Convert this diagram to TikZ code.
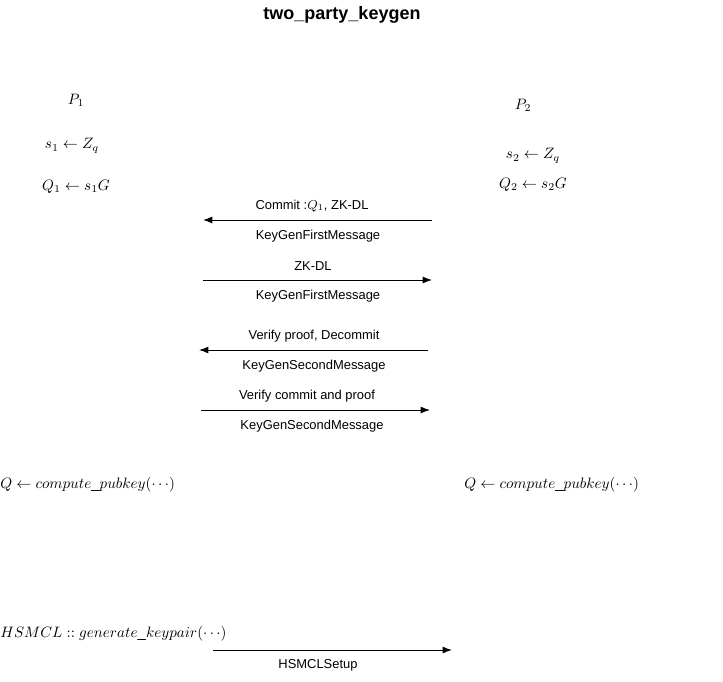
\RequirePackage{fix-cm}
\documentclass[tikz,border=0pt]{standalone}
\usepackage{fontspec}
\setmainfont{Liberation Sans}
\usetikzlibrary{arrows.meta}
\begin{document}
\begin{tikzpicture}[x=0.75pt,y=-0.75pt,
  lbl/.style={inner sep=0pt,font=\fontsize{9.7}{11}\selectfont},
  mth/.style={inner sep=0pt,font=\fontsize{11.3}{13}\selectfont},
  msg/.style={draw=black,line width=0.75pt,-{Latex[length=7pt,width=5.2pt]}}]
\useasboundingbox (0,0) rectangle (723,681);
\node[inner sep=0pt,font=\bfseries\fontsize{13.5}{15}\selectfont] (title) at (342,15) {two\_party\_keygen};
% party 1
\node[mth] (p1) at (76,100) {$P_1$};
\node[mth] (s1) at (72,146) {$s_1 \leftarrow Z_q$};
\node[mth] (q1) at (76,187) {$Q_1 \leftarrow s_1G$};
% party 2
\node[mth] (p2) at (523,105) {$P_2$};
\node[mth] (s2) at (533,156) {$s_2 \leftarrow Z_q$};
\node[mth] (q2) at (533,185) {$Q_2 \leftarrow s_2G$};
% message 1
\coordinate (m1a) at (432,220); \coordinate (m1b) at (203,220);
\draw[msg] (m1a) -- (m1b);
\node[lbl] (m1t) at (312,206) {Commit :$Q_1$, ZK-DL};
\node[lbl] (m1n) at (318,236) {KeyGenFirstMessage};
% message 2
\coordinate (m2a) at (203,280); \coordinate (m2b) at (432,280);
\draw[msg] (m2a) -- (m2b);
\node[lbl] (m2t) at (313,266) {ZK-DL};
\node[lbl] (m2n) at (318,296) {KeyGenFirstMessage};
% message 3
\coordinate (m3a) at (428,350); \coordinate (m3b) at (199,350);
\draw[msg] (m3a) -- (m3b);
\node[lbl] (m3t) at (314,336) {Verify proof, Decommit};
\node[lbl] (m3n) at (314,366) {KeyGenSecondMessage};
% message 4
\coordinate (m4a) at (201,410); \coordinate (m4b) at (430,410);
\draw[msg] (m4a) -- (m4b);
\node[lbl] (m4t) at (307,396) {Verify commit and proof};
\node[lbl] (m4n) at (312,426) {KeyGenSecondMessage};
% compute pubkey
\node[mth,anchor=west] (cp1) at (0,485) {$Q \leftarrow compute\_pubkey(\cdots)$};
\node[mth,anchor=west] (cp2) at (464,485) {$Q \leftarrow compute\_pubkey(\cdots)$};
% HSMCL
\node[mth,anchor=west] (hs) at (0,634) {$HSMCL :: generate\_keypair(\cdots)$};
\coordinate (m5a) at (213,650); \coordinate (m5b) at (452,650);
\draw[msg] (m5a) -- (m5b);
\node[lbl] (m5n) at (318,665) {HSMCLSetup};
\end{tikzpicture}
\end{document}
